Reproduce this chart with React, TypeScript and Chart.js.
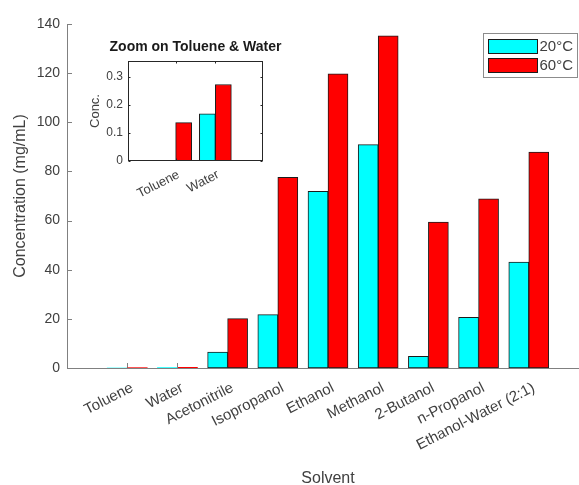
import React, { useEffect, useRef } from 'react';
import { Chart, registerables } from 'chart.js';

Chart.register(...registerables);

// ---------- data ----------
const categories = [
  'Toluene',
  'Water',
  'Acetonitrile',
  'Isopropanol',
  'Ethanol',
  'Methanol',
  '2-Butanol',
  'n-Propanol',
  'Ethanol-Water (2:1)',
];
const seriesLabels = ['20°C', '60°C'];
const conc20C = [0, 0.168, 6.5, 21.7, 71.9, 90.9, 4.7, 20.6, 43.1];
const conc60C = [0.137, 0.273, 20.1, 77.6, 119.7, 135.2, 59.4, 68.8, 87.9];
const yTickValues = [0, 20, 40, 60, 80, 100, 120, 140];

const insetCategories = ['Toluene', 'Water'];
const insetConc20C = conc20C.slice(0, 2);
const insetConc60C = conc60C.slice(0, 2);
const insetTickValues = [0, 0.1, 0.2, 0.3];

// ---------- styles ----------
const FONT = "'Liberation Sans', Arial, Helvetica, sans-serif";
const CYAN = '#00FFFF';
const RED = '#FF0000';
const EDGE = '#1c1c1c';
const TEXT = '#404040';
const AXIS = '#808080';
const INSET_AXIS = '#262626';

const mainTicksPlugin = {
  id: 'mainInTicks',
  beforeDatasetsDraw(chart: any) {
    const { ctx, chartArea, scales } = chart;
    const x = scales.x;
    const y = scales.y;
    ctx.save();
    ctx.strokeStyle = AXIS;
    ctx.lineWidth = 1;
    ctx.beginPath();
    yTickValues.forEach((v) => {
      const py = Math.round(y.getPixelForValue(v)) + 0.5;
      ctx.moveTo(chartArea.left, py);
      ctx.lineTo(chartArea.left + 5, py);
    });
    categories.forEach((_, i) => {
      const px = Math.round(x.getPixelForValue(i + 1)) + 0.5;
      ctx.moveTo(px, chartArea.bottom);
      ctx.lineTo(px, chartArea.bottom - 5);
    });
    ctx.stroke();
    ctx.restore();
  },
};

const boxLegendPlugin = {
  id: 'boxLegend',
  afterDraw(chart: any) {
    const { ctx, chartArea } = chart;
    const bw = 94;
    const bh = 44;
    const bx = Math.round(chartArea.right - 12 - bw) + 0.5;
    const by = Math.round(chartArea.top + 9) + 0.5;
    ctx.save();
    ctx.fillStyle = '#ffffff';
    ctx.fillRect(bx, by, bw, bh);
    ctx.strokeStyle = '#8c8c8c';
    ctx.lineWidth = 1;
    ctx.strokeRect(bx, by, bw, bh);
    chart.data.datasets.forEach((ds: any, i: number) => {
      const py = by + 6 + i * 19;
      ctx.fillStyle = ds.backgroundColor;
      ctx.fillRect(bx + 5, py, 49, 14);
      ctx.strokeStyle = EDGE;
      ctx.strokeRect(bx + 5, py, 49, 14);
      ctx.fillStyle = TEXT;
      ctx.font = `15px ${FONT}`;
      ctx.textBaseline = 'middle';
      ctx.textAlign = 'left';
      ctx.fillText(ds.label, bx + 56, py + 7.5);
    });
    ctx.restore();
  },
};

const insetDecorPlugin = {
  id: 'insetDecor',
  afterDatasetsDraw(chart: any) {
    const { ctx, chartArea, scales } = chart;
    const x = scales.x;
    const y = scales.y;
    const l = Math.round(chartArea.left) + 0.5;
    const r = Math.round(chartArea.right) - 0.5;
    const t = Math.round(chartArea.top) + 0.5;
    const b = Math.round(chartArea.bottom) - 0.5;
    ctx.save();
    ctx.strokeStyle = INSET_AXIS;
    ctx.lineWidth = 1;
    ctx.beginPath();
    insetTickValues.forEach((v) => {
      const py = Math.round(y.getPixelForValue(v)) + 0.5;
      ctx.moveTo(l, py);
      ctx.lineTo(l + 2, py);
      ctx.moveTo(r, py);
      ctx.lineTo(r - 2, py);
    });
    insetCategories.forEach((_, i) => {
      const px = Math.round(x.getPixelForValue(i + 1)) + 0.5;
      ctx.moveTo(px, b);
      ctx.lineTo(px, b - 2);
      ctx.moveTo(px, t);
      ctx.lineTo(px, t + 2);
    });
    ctx.stroke();
    ctx.strokeRect(l, t, r - l, b - t);
    ctx.fillStyle = '#1a1a1a';
    ctx.font = `bold 14px ${FONT}`;
    ctx.textAlign = 'center';
    ctx.textBaseline = 'middle';
    ctx.fillText('Zoom on Toluene & Water', (chartArea.left + chartArea.right) / 2, chartArea.top - 14);
    ctx.restore();
  },
};

// bars thinner than a pixel get no outline (they merge with the axis line)
function edgeWidth(c: any) {
  const y = c.chart.scales.y;
  const v = c.raw && typeof c.raw === 'object' ? c.raw.y : 0;
  if (!y) return 1;
  return Math.abs(y.getPixelForValue(v) - y.getPixelForValue(0)) < 1.5 ? 0 : 1;
}

function barDataset(label: string, values: number[], color: string, thickness: number) {
  return {
    label,
    data: values.map((v, i) => ({ x: i + 1, y: v })),
    backgroundColor: color,
    borderColor: EDGE,
    borderWidth: edgeWidth,
    borderSkipped: false,
    barThickness: thickness,
  };
}

export default function App() {
  const mainRef = useRef<HTMLCanvasElement | null>(null);
  const insetRef = useRef<HTMLCanvasElement | null>(null);

  useEffect(() => {
    if (!mainRef.current || !insetRef.current) return;

    const main = new Chart(mainRef.current, {
      type: 'bar',
      data: {
        datasets: [
          barDataset(seriesLabels[0], conc20C, CYAN, 20),
          barDataset(seriesLabels[1], conc60C, RED, 20),
        ],
      },
      options: {
        animation: false,
        responsive: false,
        maintainAspectRatio: false,
        layout: { padding: { top: 24, right: 11, left: 0, bottom: 0 } },
        plugins: { legend: { display: false }, tooltip: { enabled: false } },
        scales: {
          x: {
            type: 'linear',
            min: -0.2,
            max: 10.2,
            offset: false,
            grid: { display: false, drawTicks: false },
            border: { display: true, color: AXIS, width: 1 },
            afterBuildTicks: (s: any) => {
              s.ticks = categories.map((_, i) => ({ value: i + 1 }));
            },
            afterFit: (s: any) => {
              s.height = 117;
            },
            ticks: {
              autoSkip: false,
              minRotation: 27,
              maxRotation: 27,
              padding: 11,
              labelOffset: 5,
              color: TEXT,
              font: { family: FONT, size: 15 },
              callback: (v: any) => categories[Math.round(Number(v)) - 1] ?? '',
            },
            title: {
              display: true,
              text: 'Solvent',
              color: TEXT,
              font: { family: FONT, size: 16 },
              padding: { top: 0, bottom: -3 },
            },
          },
          y: {
            type: 'linear',
            min: 0,
            max: 140,
            grid: { display: false, drawTicks: false },
            border: { display: true, color: AXIS, width: 1 },
            afterBuildTicks: (s: any) => {
              s.ticks = yTickValues.map((v) => ({ value: v }));
            },
            afterFit: (s: any) => {
              s.width = 67;
            },
            ticks: {
              padding: 7,
              color: TEXT,
              font: { family: FONT, size: 14 },
            },
            title: {
              display: true,
              text: 'Concentration (mg/mL)',
              color: TEXT,
              font: { family: FONT, size: 16 },
              padding: { top: 11, bottom: 0 },
            },
          },
        },
      } as any,
      plugins: [mainTicksPlugin, boxLegendPlugin],
    } as any);

    const inset = new Chart(insetRef.current, {
      type: 'bar',
      data: {
        datasets: [
          barDataset(seriesLabels[0], insetConc20C, CYAN, 16),
          barDataset(seriesLabels[1], insetConc60C, RED, 16),
        ],
      },
      options: {
        animation: false,
        responsive: false,
        maintainAspectRatio: false,
        layout: { padding: { top: 36, right: 37, left: 0, bottom: 0 } },
        plugins: { legend: { display: false }, tooltip: { enabled: false } },
        scales: {
          x: {
            type: 'linear',
            min: -0.2,
            max: 3.2,
            offset: false,
            grid: { display: false, drawTicks: false },
            border: { display: false },
            afterBuildTicks: (s: any) => {
              s.ticks = insetCategories.map((_, i) => ({ value: i + 1 }));
            },
            afterFit: (s: any) => {
              s.height = 44;
            },
            ticks: {
              autoSkip: false,
              minRotation: 27,
              maxRotation: 27,
              padding: 6,
              labelOffset: 3,
              color: TEXT,
              font: { family: FONT, size: 13 },
              callback: (v: any) => insetCategories[Math.round(Number(v)) - 1] ?? '',
            },
          },
          y: {
            type: 'linear',
            min: 0,
            max: 0.357,
            grid: { display: false, drawTicks: false },
            border: { display: false },
            afterBuildTicks: (s: any) => {
              s.ticks = insetTickValues.map((v) => ({ value: v }));
            },
            afterFit: (s: any) => {
              s.width = 68;
            },
            ticks: {
              padding: 5,
              color: TEXT,
              font: { family: FONT, size: 12 },
              callback: (v: any) => String(Math.round(Number(v) * 10) / 10),
            },
            title: {
              display: true,
              text: 'Conc.',
              color: TEXT,
              font: { family: FONT, size: 13 },
              padding: { top: 28, bottom: 0 },
            },
          },
        },
      } as any,
      plugins: [insetDecorPlugin],
    } as any);

    return () => {
      main.destroy();
      inset.destroy();
    };
  }, []);

  return (
    <div
      style={{
        position: 'fixed',
        left: 0,
        top: 0,
        width: 579,
        height: 485,
        overflow: 'hidden',
        background: '#ffffff',
      }}
    >
      <canvas
        ref={mainRef}
        width={600}
        height={485}
        style={{ position: 'absolute', left: 0, top: 0, width: 600, height: 485, display: 'block' }}
      />
      <canvas
        ref={insetRef}
        width={240}
        height={180}
        style={{ position: 'absolute', left: 60, top: 25, width: 240, height: 180, display: 'block' }}
      />
    </div>
  );
}
